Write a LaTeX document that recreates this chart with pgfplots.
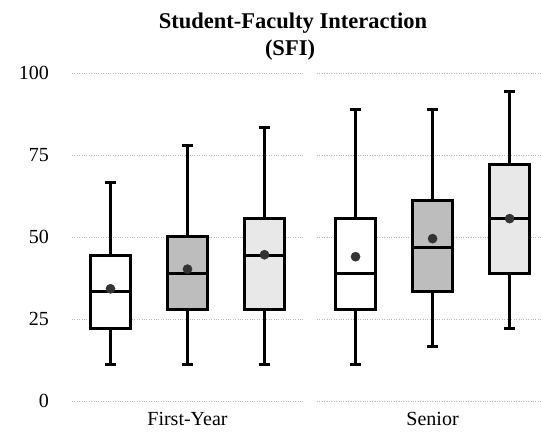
\documentclass[border=0pt]{standalone}
\usepackage{pgfplots}
\pgfplotsset{compat=1.18}
\usepgfplotslibrary{statistics}
\usepackage{fontspec}
\setmainfont{Liberation Serif}
\definecolor{boxA}{gray}{1.0}
\definecolor{boxB}{gray}{0.74}
\definecolor{boxC}{gray}{0.91}
\pgfplotsset{
  panel/.style={
    scale only axis,
    height=328pt,
    ymin=0, ymax=100,
    ytick={0,25,50,75,100},
    ymajorgrids,
    grid style={gray!55, dotted, line width=0.6pt},
    axis line style={draw=none},
    tick style={draw=none},
    major tick length=0pt,
    xtick={2},
    xticklabel style={anchor=north, inner sep=0pt, font=\fontsize{20}{24}\selectfont},
    xticklabel shift=11pt,
    clip=false,
    boxplot/draw direction=y,
    boxplot/box extend=0.52,
    boxplot/whisker extend=0.15,
  },
  bx/.style={draw=black, line width=3pt, solid, mark=none, fill=#1,
    boxplot/every median/.style={line width=3pt}},
  mn/.style={only marks, mark=*, mark size=4.6pt, mark options={fill=black!80, draw=black!80}},
}
\begin{document}
\begin{tikzpicture}
\begin{axis}[panel, at={(72pt,31pt)}, anchor=south west, width=231pt,
  xmin=0.5, xmax=3.5, xticklabels={First-Year},
  yticklabel style={anchor=east, inner sep=0pt, font=\fontsize{20}{24}\selectfont},
  yticklabel shift=23pt,
  /pgf/number format/assume math mode=true]
\addplot+[bx=boxA, boxplot prepared={draw position=1, lower whisker=11.1, lower quartile=22.2, median=33.3, upper quartile=44.4, upper whisker=66.7}] coordinates {};
\addplot+[bx=boxB, boxplot prepared={draw position=2, lower whisker=11.1, lower quartile=27.8, median=38.9, upper quartile=50.0, upper whisker=77.8}] coordinates {};
\addplot+[bx=boxC, boxplot prepared={draw position=3, lower whisker=11.1, lower quartile=27.8, median=44.4, upper quartile=55.6, upper whisker=83.3}] coordinates {};
\addplot[mn] coordinates {(1,34.2) (2,40.2) (3,44.6)};
\end{axis}
\begin{axis}[panel, at={(317pt,31pt)}, anchor=south west, width=225pt,
  xmin=0.5, xmax=3.42, xticklabels={Senior}, yticklabels={}]
\addplot+[bx=boxA, boxplot prepared={draw position=1, lower whisker=11.1, lower quartile=27.8, median=38.9, upper quartile=55.6, upper whisker=88.9}] coordinates {};
\addplot+[bx=boxB, boxplot prepared={draw position=2, lower whisker=16.7, lower quartile=33.3, median=46.7, upper quartile=61.1, upper whisker=88.9}] coordinates {};
\addplot+[bx=boxC, boxplot prepared={draw position=3, lower whisker=22.2, lower quartile=38.9, median=55.6, upper quartile=72.2, upper whisker=94.4}] coordinates {};
\addplot[mn] coordinates {(1,44.0) (2,49.5) (3,55.6)};
\end{axis}
\node[anchor=base, font=\fontsize{22.5}{27}\selectfont\bfseries] at (293pt,403pt) {Student-Faculty Interaction};
\node[anchor=base, font=\fontsize{22.5}{27}\selectfont\bfseries] at (290pt,376pt) {(SFI)};
\pgfresetboundingbox
\useasboundingbox (0,0) rectangle (542pt,432pt);
\end{tikzpicture}
\end{document}
